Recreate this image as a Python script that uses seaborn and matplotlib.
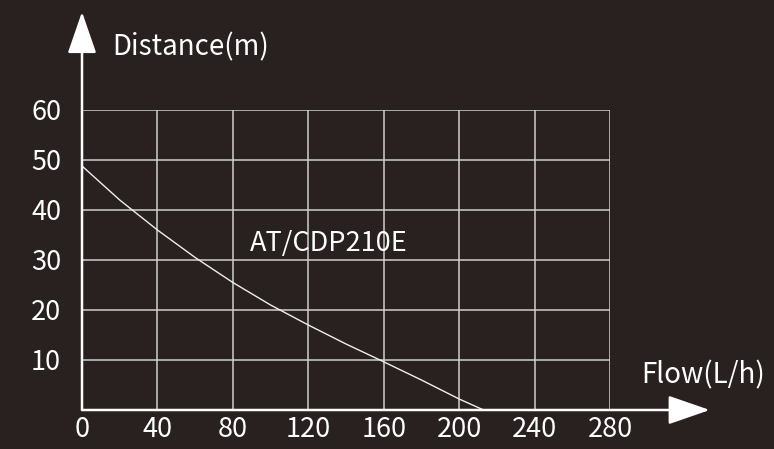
import numpy as np
import pandas as pd
import matplotlib
matplotlib.use("Agg")
import matplotlib.pyplot as plt
import seaborn as sns

# curve
flow = [0, 20, 40, 60, 80, 100, 120, 140, 158, 180, 200, 213]
distance = [48.8, 42.0, 36.0, 30.5, 25.5, 21.0, 17.0, 13.2, 10.0, 6.0, 2.2, 0.0]
x_ticks = [0, 40, 80, 120, 160, 200, 240, 280]
y_ticks = [10, 20, 30, 40, 50, 60]
model = "AT/CDP210E"
x_label = "Flow(L/h)"
y_label = "Distance(m)"

bg = "#282120"
grid_c = "#cfcfcf"
fg = "#ffffff"

sns.set_theme(style="dark")
plt.rcParams["font.family"] = ["Noto Sans CJK SC", "DejaVu Sans"]

df = pd.DataFrame({"flow": flow, "distance": distance})

fig = plt.figure(figsize=(7.74, 4.49), dpi=100, facecolor=bg)
ax = fig.add_axes([82 / 774, 39 / 449, 528 / 774, 300 / 449])
ax.set_facecolor(bg)

sns.lineplot(data=df, x="flow", y="distance", ax=ax, color="#eeeeee", lw=1.0)

ax.set_xlim(0, 280)
ax.set_ylim(0, 60)
ax.set_xticks(x_ticks)
ax.set_yticks(y_ticks)
ax.grid(True, color=grid_c, lw=1.1)
ax.tick_params(length=0, colors=fg, labelsize=19.5)
ax.tick_params(axis="x", pad=4)
ax.tick_params(axis="y", pad=15)
for lab in ax.get_xticklabels() + ax.get_yticklabels():
    lab.set_color(fg)
ax.set_xlabel("")
ax.set_ylabel("")
for side in ["top", "right", "left", "bottom"]:
    ax.spines[side].set_visible(False)

# axes with arrow heads
arrow = dict(arrowstyle="-|>,head_length=1.3,head_width=0.45", mutation_scale=20,
             color=fg, lw=1.8, shrinkA=0, shrinkB=0)
ax.annotate("", xy=(0, 1.327), xytext=(0, 0), xycoords="axes fraction",
            arrowprops=arrow, annotation_clip=False)
ax.annotate("", xy=(1.189, 0), xytext=(0, 0), xycoords="axes fraction",
            arrowprops=arrow, annotation_clip=False)

ax.text(15.9, 72.6, y_label, color=fg, fontsize=20, va="center", ha="left", clip_on=False)
ax.text(296.6, 7.0, x_label, color=fg, fontsize=20, va="center", ha="left", clip_on=False)
ax.text(89, 33.4, model, color=fg, fontsize=19.5, va="center", ha="left")

fig.savefig("out.png", dpi=100, facecolor=bg)
